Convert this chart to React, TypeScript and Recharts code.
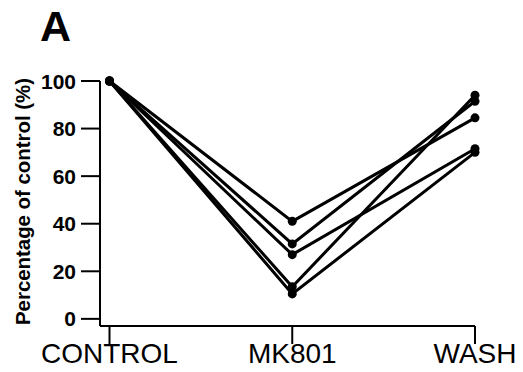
import React from 'react';
import { LineChart, Line, XAxis, YAxis } from 'recharts';

const categories = ['CONTROL', 'MK801', 'WASH'];
const categoryPositions = [0, 1, 2];
const yTicks = [0, 20, 40, 60, 80, 100];

const cell1 = [100, 41, 84.5];
const cell2 = [100, 31.5, 91.5];
const cell3 = [100, 27, 71.5];
const cell4 = [100, 13.5, 94];
const cell5 = [100, 10.5, 70];

const seriesList = [cell1, cell2, cell3, cell4, cell5];

const data = categoryPositions.map((pos, i) => {
  const row: Record<string, number> = { pos };
  seriesList.forEach((s, k) => {
    row['s' + (k + 1)] = s[i];
  });
  return row;
});

const FONT = '"Liberation Sans", Arial, Helvetica, sans-serif';

const YTick = (props: any) => {
  const { x, y, payload } = props;
  return (
    <text x={x} y={y} dy={7.5} textAnchor="end" fontFamily={FONT} fontSize={21} fontWeight="bold" fill="#000">
      {payload.value}
    </text>
  );
};

const XTick = (props: any) => {
  const { x, y, payload } = props;
  return (
    <text x={x} y={y} dy={19} textAnchor="middle" fontFamily={FONT} fontSize={28} fill="#000">
      {categories[payload.value]}
    </text>
  );
};

const YLabel = () => (
  <text
    x={30}
    y={201.5}
    transform="rotate(-90 30 201.5)"
    textAnchor="middle"
    fontFamily={FONT}
    fontSize={21}
    fontWeight="bold"
    fill="#000"
    textLength={247}
    lengthAdjust="spacingAndGlyphs"
  >
    Percentage of control (%)
  </text>
);

export default function App() {
  return (
    <div style={{ position: 'absolute', left: 0, top: 0, width: 523, height: 372, background: '#fff' }}>
      <div
        style={{
          position: 'absolute',
          left: 40,
          top: 1,
          fontFamily: FONT,
          fontSize: 43,
          fontWeight: 'bold',
          lineHeight: '50px',
          color: '#000',
        }}
      >
        A
      </div>
      <LineChart width={523} height={372} data={data} margin={{ top: 81, right: 48, bottom: 0, left: 0 }}>
        <XAxis
          dataKey="pos"
          type="number"
          domain={[-0.052, 2]}
          ticks={categoryPositions}
          height={46}
          stroke="#000"
          axisLine={{ stroke: '#000', strokeWidth: 2 }}
          tickLine={{ stroke: '#000', strokeWidth: 2 }}
          tickSize={18}
          tickMargin={0}
          tick={<XTick />}
          interval={0}
        />
        <YAxis
          type="number"
          domain={[-3, 100]}
          ticks={yTicks}
          width={100}
          stroke="#000"
          axisLine={{ stroke: '#000', strokeWidth: 2 }}
          tickLine={{ stroke: '#000', strokeWidth: 2 }}
          tickSize={19}
          tickMargin={5}
          tick={<YTick />}
          interval={0}
          label={<YLabel />}
        />
        {seriesList.map((_, k) => (
          <Line
            key={k}
            type="linear"
            dataKey={'s' + (k + 1)}
            stroke="#000"
            strokeWidth={3}
            dot={{ r: 4.5, fill: '#000', stroke: '#000', strokeWidth: 0 }}
            activeDot={false}
            isAnimationActive={false}
          />
        ))}
      </LineChart>
    </div>
  );
}
